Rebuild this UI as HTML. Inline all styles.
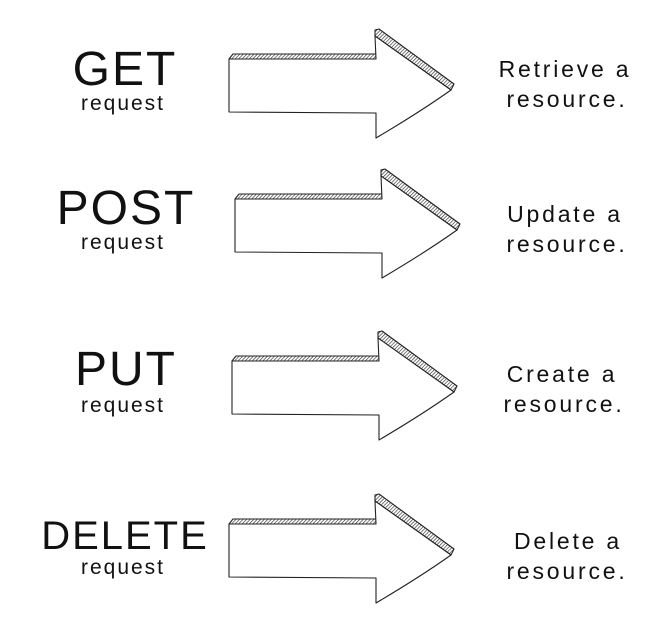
<!DOCTYPE html>
<html><head><meta charset="utf-8">
<style>
html,body{margin:0;padding:0;background:#fff;}
svg{display:block;}
text{font-family:"Liberation Sans",sans-serif;fill:#111;}
.big{font-size:48px;letter-spacing:2px;}
.del{font-size:40px;letter-spacing:2px;}
.req{font-size:21px;letter-spacing:2px;}
.desc{font-size:23px;letter-spacing:2.8px;}
</style></head><body>
<svg width="661" height="634" viewBox="0 0 661 634" xmlns="http://www.w3.org/2000/svg">
<defs>
<pattern id="h" width="2.5" height="2.5" patternUnits="userSpaceOnUse" patternTransform="rotate(45)">
<rect width="2.5" height="2.5" fill="#fff"/>
<line x1="0" y1="0" x2="0" y2="2.5" stroke="#333" stroke-width="1.3"/>
</pattern>
<g id="arr" stroke="#222" stroke-width="1.1" stroke-linejoin="round">
<polygon points="229,59 233,54 376,54 376,59" fill="url(#h)"/>
<polygon points="375,30 379,29 454,84 451,90 375,36" fill="url(#h)"/>
<path d="M229,59 L376,59 L375,36 L451,90 Q420,112 376,138 L376,113 L229,112 Z" fill="#fff"/>
</g>
</defs>

<use href="#arr"/>
<use href="#arr" transform="translate(6,140)"/>
<use href="#arr" transform="translate(3,302)"/>
<use href="#arr" transform="translate(0,465)"/>

<g text-anchor="middle">
<text class="big" x="125" y="85">GET</text>
<text class="req" x="123" y="110">request</text>
<text class="desc" x="565" y="77">Retrieve a</text>
<text class="desc" x="567" y="107">resource.</text>

<text class="big" x="126" y="224">POST</text>
<text class="req" x="123" y="249">request</text>
<text class="desc" x="565" y="222">Update a</text>
<text class="desc" x="567" y="252">resource.</text>

<text class="big" x="126" y="385">PUT</text>
<text class="req" x="123" y="412">request</text>
<text class="desc" x="562" y="382">Create a</text>
<text class="desc" x="564" y="412">resource.</text>

<text class="del" x="125" y="549">DELETE</text>
<text class="req" x="123" y="574">request</text>
<text class="desc" x="568" y="549">Delete a</text>
<text class="desc" x="567" y="579">resource.</text>
</g>
</svg>
</body></html>
